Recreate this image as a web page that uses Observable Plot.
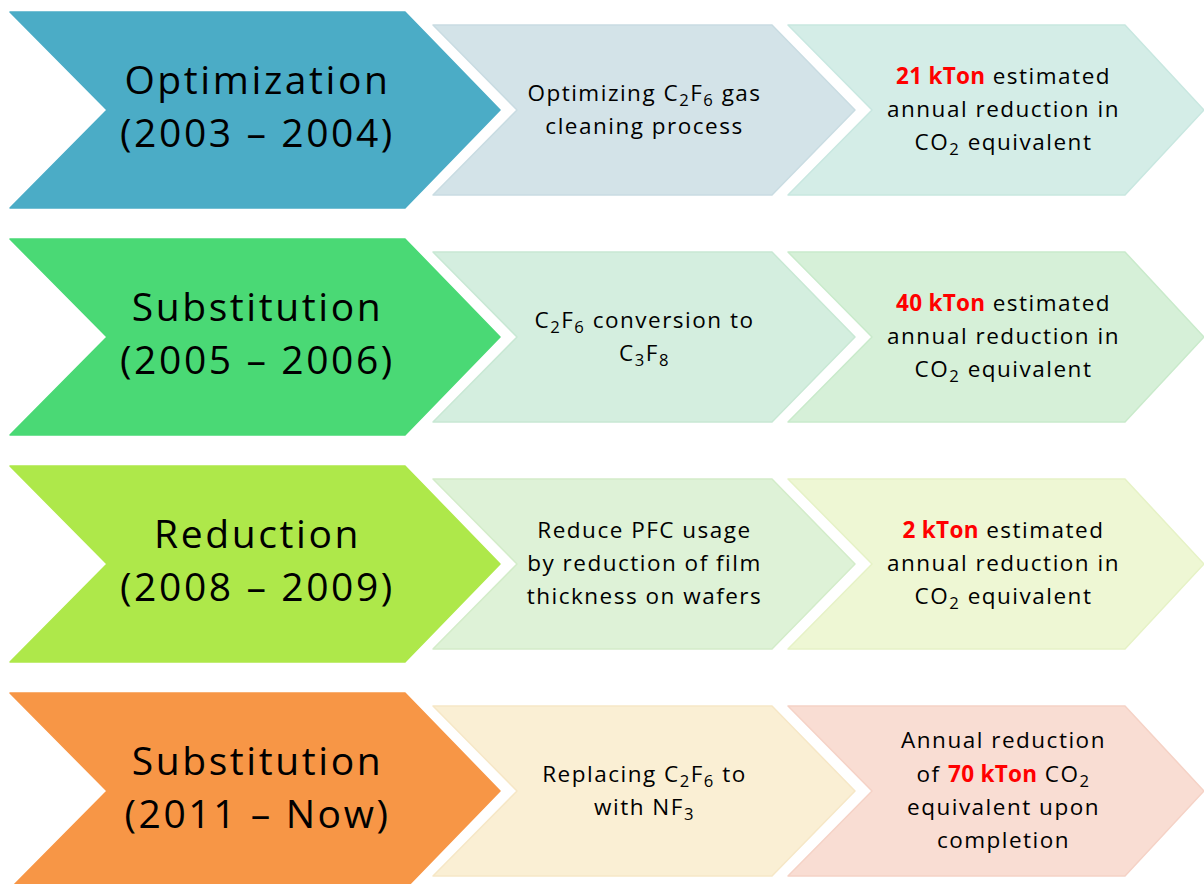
<!DOCTYPE html>
<html>
<head>
<meta charset="utf-8">
<script src="https://cdn.jsdelivr.net/npm/d3@7"></script>
<script src="https://cdn.jsdelivr.net/npm/@observablehq/plot@0.6"></script>
<style>
  html, body { margin: 0; padding: 0; background: #ffffff; }
  #chart svg { display: block; }
  .big text { letter-spacing: 2.6px; }
  .small text { letter-spacing: 1.5px; }
</style>
</head>
<body>
<div id="chart"></div>
<script>
// ---- Data ----
const stages  = ["Optimization", "Substitution", "Reduction", "Substitution"];
const periods = ["(2003 – 2004)", "(2005 – 2006)", "(2008 – 2009)", "(2011 – Now)"];
const actions = [
  "Optimizing C_2F_6 gas\ncleaning process",
  "C_2F_6 conversion to\nC_3F_8",
  "Reduce PFC usage\nby reduction of film\nthickness on wafers",
  "Replacing C_2F_6 to\nwith NF_3"
];
const results = [
  "*21 kTon* estimated\nannual reduction in\nCO_2 equivalent",
  "*40 kTon* estimated\nannual reduction in\nCO_2 equivalent",
  "*2 kTon* estimated\nannual reduction in\nCO_2 equivalent",
  "Annual reduction\nof *70 kTon* CO_2\nequivalent upon\ncompletion"
];
const stageColors  = ["#4BACC6", "#4AD975", "#AEE84A", "#F79646"];
const actionColors = ["#D3E3E8", "#D4EEDF", "#DEF2D7", "#FAEFD4"];
const resultColors = ["#D4EDE7", "#D6F0D8", "#EEF7D4", "#F9DDD3"];
const actionStroke = ["#C9DCE2", "#C8E8D4", "#D3ECC9", "#F6E7C6"];
const resultStroke = ["#C8E7E0", "#C9EACB", "#E6F2C6", "#F5D2C6"];

// ---- Layout (diagram units) ----
const W = 1204, H = 884;
const rowCenter = r => 110 + r * 227;
const cols = [
  {left: 10,  notch: 107, right: 405,  tip: 500,  half: 98},
  {left: 433, notch: 517, right: 772,  tip: 855,  half: 85},
  {left: 788, notch: 872, right: 1125, tip: 1204, half: 85}
];
const fills = [stageColors, actionColors, resultColors];
const strokes = [stageColors, actionStroke, resultStroke];

const shapes = [];
stages.forEach((_, r) => {
  const cy = rowCenter(r);
  cols.forEach((c, k) => {
    const id = `${r}-${k}`;
    const fill = fills[k][r], stroke = strokes[k][r];
    shapes.push({id, y: cy - c.half, x1: c.left,  x2: c.right, fill, stroke});
    shapes.push({id, y: cy,          x1: c.notch, x2: c.tip,   fill, stroke});
    shapes.push({id, y: cy + c.half, x1: c.left,  x2: c.right, fill, stroke});
  });
});

const bigLabels = stages.map((s, r) => ({x: 257, y: rowCenter(r) - 7, text: s + "\n" + periods[r]}));
const midLabels = actions.map((s, r) => ({x: 644, y: rowCenter(r) - 4, text: s}));
const resLabels = results.map((s, r) => ({x: 1003, y: rowCenter(r) - 4, text: s}));

const font = "'Open Sans', Lato, sans-serif";

const plot = Plot.plot({
  width: W, height: H,
  margin: 0,
  x: {domain: [0, W], range: [0, W], axis: null},
  y: {domain: [0, H], range: [0, H], axis: null},
  color: {type: "identity"},
  marks: [
    Plot.areaX(shapes, {x1: "x1", x2: "x2", y: "y", z: "id", fill: "fill", stroke: "stroke", strokeWidth: 1.5}),
    Plot.text(bigLabels, {x: "x", y: "y", text: "text", fontSize: 39, lineHeight: 1.36, fill: "#000", fontFamily: font, lineAnchor: "middle", className: "big"}),
    Plot.text(midLabels, {x: "x", y: "y", text: "text", fontSize: 22.5, lineHeight: 1.47, fill: "#000", fontFamily: font, lineAnchor: "middle", className: "small"}),
    Plot.text(resLabels, {x: "x", y: "y", text: "text", fontSize: 22.5, lineHeight: 1.47, fill: "#000", fontFamily: font, lineAnchor: "middle", className: "small"})
  ]
});

// Rich text: *...* = red bold, _x = subscript
function enrich(svg) {
  const NS = "http://www.w3.org/2000/svg";
  svg.querySelectorAll("text").forEach(t => {
    const spans = t.querySelectorAll("tspan");
    const targets = spans.length ? Array.from(spans) : [t];
    targets.forEach(el => {
      const s = el.textContent;
      if (!/[*_]/.test(s)) return;
      el.textContent = "";
      const re = /\*([^*]+)\*|_(.)|([^*_]+)/g;
      let m;
      while ((m = re.exec(s))) {
        const ts = document.createElementNS(NS, "tspan");
        if (m[1] !== undefined) {
          ts.textContent = m[1];
          ts.setAttribute("fill", "#FF0000");
          ts.setAttribute("font-weight", "bold");
          ts.setAttribute("letter-spacing", "0.3px");
        } else if (m[2] !== undefined) {
          ts.textContent = m[2];
          ts.setAttribute("baseline-shift", "-5px");
          ts.setAttribute("font-size", "74%");
        } else {
          ts.textContent = m[3];
        }
        el.appendChild(ts);
      }
    });
  });
}
enrich(plot);
document.getElementById("chart").appendChild(plot);
</script>
</body>
</html>
